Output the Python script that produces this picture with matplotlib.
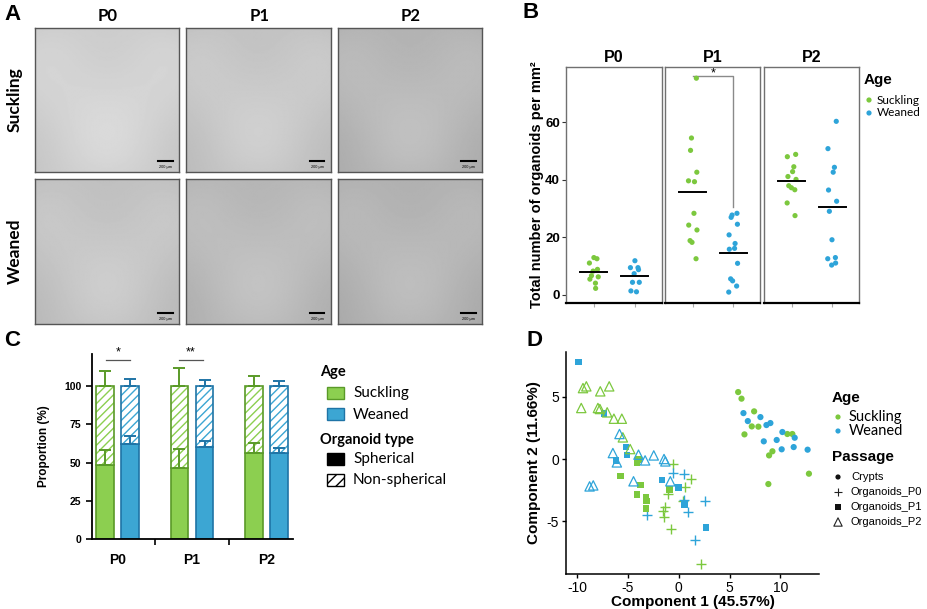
import numpy as np
import matplotlib
matplotlib.use("Agg")
import matplotlib.pyplot as plt
from matplotlib.patches import Rectangle

# ---------------- data ----------------
passages = ["P0", "P1", "P2"]
ages = ["Suckling", "Weaned"]

# Panel B: total number of organoids per mm2
b_suckling_p0 = [13.0, 12.6, 11.1, 8.9, 8.3, 6.7, 6.3, 5.5, 4.1, 2.3]
b_weaned_p0 = [11.9, 9.5, 9.5, 8.8, 7.4, 4.4, 4.4, 1.4, 1.1]
b_suckling_p1 = [75.4, 54.6, 50.3, 42.7, 39.7, 39.4, 28.4, 24.3, 22.6, 18.9, 18.3, 12.6]
b_weaned_p1 = [28.4, 27.8, 27.0, 24.6, 20.9, 17.9, 16.2, 15.9, 11.0, 5.6, 4.9, 3.1, 1.0]
b_suckling_p2 = [48.9, 48.1, 44.6, 42.9, 41.2, 40.2, 38.0, 37.3, 36.6, 32.0, 27.6]
b_weaned_p2 = [60.4, 50.9, 44.4, 42.7, 36.5, 32.6, 29.1, 19.2, 13.0, 12.6, 11.1, 10.4]
b_mean_suckling = [7.9, 35.7, 39.8]
b_mean_weaned = [6.5, 14.7, 30.5]
b_yticks = [0, 20, 40, 60]

# Panel C: proportions (%)
c_sph_suckling = [48.4, 46.6, 56.4]
c_sph_suckling_err = [9.5, 12.2, 6.5]
c_sph_weaned = [62.0, 60.1, 56.4]
c_sph_weaned_err = [5.2, 3.7, 3.3]
c_total = [100, 100, 100]
c_tot_suckling_err = [9.8, 12.1, 6.3]
c_tot_weaned_err = [4.8, 3.7, 3.3]
c_yticks = [0, 25, 50, 75, 100]

# Panel D: PCA
d_crypt_s_x = [5.85, 6.18, 7.42, 7.19, 7.84, 6.47, 10.69, 11.18, 9.22, 8.89, 12.81, 8.82]
d_crypt_s_y = [5.38, 4.85, 3.83, 2.62, 2.60, 1.98, 2.01, 2.01, 0.62, 0.29, -1.18, -2.01]
d_crypt_w_x = [6.37, 6.80, 8.04, 8.63, 9.02, 10.20, 9.64, 8.37, 11.41, 10.13, 11.31, 12.68]
d_crypt_w_y = [3.69, 3.05, 3.37, 2.73, 2.89, 2.17, 1.53, 1.42, 1.71, 0.78, 0.96, 0.75]
d_p0_s_x = [-0.52, 1.21, 0.65, -1.05, -1.37, -1.50, -1.44, -0.72, 2.19, 0.45]
d_p0_s_y = [-0.37, -1.58, -2.28, -2.81, -3.86, -4.15, -4.66, -5.60, -8.41, -3.40]
d_p0_w_x = [-0.56, 0.49, 0.56, 0.95, 2.58, 1.60, -3.14]
d_p0_w_y = [-1.15, -1.23, -3.27, -4.26, -3.37, -6.48, -4.50]
d_p1_s_x = [-4.12, -3.95, -5.72, -3.76, -4.12, -3.20, -3.14, -3.20, -0.88]
d_p1_s_y = [-0.32, -0.05, -1.37, -2.09, -2.84, -3.05, -3.37, -3.99, -2.44]
d_p1_w_x = [-9.84, -7.32, -5.20, -5.10, -6.14, -1.63, -0.03, 0.56, 2.68]
d_p1_w_y = [7.79, 3.64, 0.96, 0.32, -0.13, -1.69, -2.28, -3.64, -5.49]
d_p2_s_x = [-9.41, -9.08, -9.58, -7.71, -6.83, -7.94, -7.75, -7.03, -6.37, -5.59, -5.49, -4.77]
d_p2_s_y = [5.70, 5.84, 4.10, 5.44, 5.84, 4.10, 4.02, 3.75, 3.24, 3.24, 1.74, 0.80]
d_p2_w_x = [-5.82, -6.47, -6.08, -3.95, -3.30, -2.45, -1.44, -1.31, -4.44, -0.82, -8.76, -8.40]
d_p2_w_y = [2.01, 0.48, -0.27, 0.35, -0.11, 0.29, 0.00, -0.19, -1.79, -1.79, -2.20, -2.12]
d_xticks = [-10, -5, 0, 5, 10]
d_yticks = [-5, 0, 5]

# ---------------- style ----------------
GREEN = "#7cc83e"
BLUE = "#2ea4d9"
C_GREEN = "#8ccf50"
C_GREEN_D = "#5a9a28"
C_BLUE = "#3ca6d3"
C_BLUE_D = "#1f74a6"
ARIAL = ["Liberation Sans", "DejaVu Sans"]
CAL = ["Lato", "DejaVu Sans"]

W, H = 927, 609
fig = plt.figure(figsize=(W / 100, H / 100), dpi=100)


def axpx(x0, y0, x1, y1):
    return fig.add_axes([x0 / W, 1 - y1 / H, (x1 - x0) / W, (y1 - y0) / H])


# ---------------- Panel A (micrograph placeholders) ----------------
img_cols = [(35, 179), (186, 331), (338, 482)]
img_rows = [(28, 172), (179, 324)]
img_levels = [[0.84, 0.80, 0.74], [0.79, 0.75, 0.73]]
gy, gx = np.mgrid[-1:1:120j, -1:1:120j]
for r, (y0, y1) in enumerate(img_rows):
    for c, (x0, x1) in enumerate(img_cols):
        ax = axpx(x0, y0, x1, y1)
        base = img_levels[r][c]
        img = base - 0.05 * (gx ** 2 + gy ** 2) / 2 + 0.02 * np.cos(3 * gx) * np.sin(2.5 * gy)
        ax.imshow(img, cmap="gray", vmin=0, vmax=1, aspect="auto", interpolation="bilinear")
        ax.set_xticks([]); ax.set_yticks([])
        for s in ax.spines.values():
            s.set_color("#555555"); s.set_linewidth(1.0)
        # scale bar
        ax.plot([0.855, 0.955], [0.075, 0.075], transform=ax.transAxes, color="black", lw=1.5)
        ax.text(0.905, 0.035, "200 µm", transform=ax.transAxes, ha="center", va="center",
                fontsize=2.8, color="black", family=ARIAL)

# ---------------- Panel B ----------------
b_boxes = [(566, 67, 662, 303), (665, 67, 760, 303), (764, 67, 859, 303)]
b_s = [b_suckling_p0, b_suckling_p1, b_suckling_p2]
b_w = [b_weaned_p0, b_weaned_p1, b_weaned_p2]
b_axes = []
for i, box in enumerate(b_boxes):
    ax = axpx(*box)
    b_axes.append(ax)
    ax.set_xlim(0.32, 2.66)
    ax.set_ylim(-2.8, 79.3)
    for sname in ["left", "right", "top"]:
        ax.spines[sname].set_color("#707070"); ax.spines[sname].set_linewidth(1.0)
    ax.spines["bottom"].set_color("black"); ax.spines["bottom"].set_linewidth(1.6)
    ax.set_xticks([1, 2])
    ax.tick_params(axis="x", length=3, color="#aaaaaa", labelbottom=False)
    ax.set_yticks(b_yticks)
    if i == 0:
        ax.set_yticklabels([str(v) for v in b_yticks], fontsize=9.5, fontweight="bold", family=ARIAL)
        ax.tick_params(axis="y", length=3, color="#333333", pad=1.5)
    else:
        ax.tick_params(axis="y", left=False, labelleft=False)
    for xpos, vals, col, mean in [(1, b_s[i], GREEN, b_mean_suckling[i]),
                                  (2, b_w[i], BLUE, b_mean_weaned[i])]:
        n = len(vals)
        jit = 0.11 * np.sin(np.arange(n) * 2.39996 + i)
        ax.scatter(xpos + jit, vals, s=14, color=col, edgecolors="none", zorder=3)
        ax.plot([xpos - 0.33, xpos + 0.33], [mean, mean], color="black", lw=1.4, zorder=4)

# significance bracket in P1
axb = b_axes[1]
axb.plot([1, 2, 2], [76.3, 76.3, 30.6], color="#8a8a8a", lw=1.0, clip_on=False, zorder=2)
axb.text(1.5, 77.0, "*", ha="center", va="center", fontsize=9, family=ARIAL)

# ---------------- Panel C ----------------
axc = axpx(92, 354, 293, 539)
xg = np.arange(len(passages))
off, bw = 0.168, 0.23
axc.set_xlim(-0.342, 2.355)
axc.set_ylim(0, 121)
for xs, sph, sph_err, tot_err, fc, ec in [
        (xg - off, c_sph_suckling, c_sph_suckling_err, c_tot_suckling_err, C_GREEN, C_GREEN_D),
        (xg + off, c_sph_weaned, c_sph_weaned_err, c_tot_weaned_err, C_BLUE, C_BLUE_D)]:
    sph = np.array(sph, dtype=float)
    top = np.array(c_total, dtype=float) - sph
    axc.bar(xs, sph, width=bw, color=fc, edgecolor=ec, linewidth=1.2, zorder=2)
    axc.bar(xs, top, bottom=sph, width=bw, color="white", edgecolor=fc, linewidth=0,
            hatch="////", zorder=2)
    axc.bar(xs, top, bottom=sph, width=bw, fill=False, edgecolor=ec, linewidth=1.2, zorder=3)
    axc.errorbar(xs, sph, yerr=[np.zeros(3), sph_err], fmt="none", ecolor=ec,
                 elinewidth=1.4, capsize=4, capthick=1.4, zorder=4)
    axc.errorbar(xs, c_total, yerr=[np.zeros(3), tot_err], fmt="none", ecolor=ec,
                 elinewidth=1.4, capsize=4, capthick=1.4, zorder=4, clip_on=False)
for sp in ["top", "right"]:
    axc.spines[sp].set_visible(False)
axc.spines["left"].set_linewidth(1.3)
axc.spines["bottom"].set_linewidth(1.3)
axc.set_yticks(c_yticks)
axc.set_yticklabels([str(v) for v in c_yticks], fontsize=7.5, fontweight="bold", family=ARIAL)
axc.tick_params(axis="y", length=4, width=1.2)
axc.set_xticks(xg)
axc.set_xticklabels(passages, fontsize=10, fontweight="bold", family=ARIAL)
axc.tick_params(axis="x", which="major", length=0, pad=10)
axc.set_xticks([0.5, 1.5], minor=True)
axc.tick_params(axis="x", which="minor", length=4, width=1.2, direction="out")
axc.set_ylabel("Proportion (%)", fontsize=8.5, fontweight="bold", family=ARIAL, labelpad=10)
# significance
axc.plot([-0.154, 0.168], [117, 117], color="#555555", lw=0.9, clip_on=False)
axc.text(0.007, 118, "*", ha="center", va="bottom", fontsize=9, family=ARIAL)
axc.plot([0.825, 1.148], [117, 117], color="#555555", lw=0.9, clip_on=False)
axc.text(0.987, 118, "**", ha="center", va="bottom", fontsize=9, family=ARIAL)

# ---------------- Panel D ----------------
axd = axpx(566, 352, 819, 574)
axd.set_xlim(-11.08, 13.8)
axd.set_ylim(-9.24, 8.6)
for sp in ["top", "right"]:
    axd.spines[sp].set_visible(False)
axd.spines["left"].set_linewidth(1.1)
axd.spines["bottom"].set_linewidth(1.1)
axd.set_xticks(d_xticks)
axd.set_yticks(d_yticks)
axd.set_xticklabels([str(v) for v in d_xticks], fontsize=10, family=ARIAL)
axd.set_yticklabels([str(v) for v in d_yticks], fontsize=10, family=ARIAL)
axd.tick_params(length=3, width=1, pad=2)
axd.set_xlabel("Component 1 (45.57%)", fontsize=11, fontweight="bold", family=ARIAL, labelpad=0)
axd.set_ylabel("Component 2 (11.66%)", fontsize=11, fontweight="bold", family=ARIAL, labelpad=4)
for xs, ys, col in [(d_crypt_s_x, d_crypt_s_y, GREEN), (d_crypt_w_x, d_crypt_w_y, BLUE)]:
    axd.scatter(xs, ys, s=20, marker="o", color=col, edgecolors="none", zorder=3)
for xs, ys, col in [(d_p0_s_x, d_p0_s_y, GREEN), (d_p0_w_x, d_p0_w_y, BLUE)]:
    axd.scatter(xs, ys, s=55, marker="+", color=col, linewidths=1.0, zorder=3)
for xs, ys, col in [(d_p1_s_x, d_p1_s_y, GREEN), (d_p1_w_x, d_p1_w_y, BLUE)]:
    axd.scatter(xs, ys, s=22, marker="s", color=col, edgecolors="none", zorder=3)
for xs, ys, col in [(d_p2_s_x, d_p2_s_y, GREEN), (d_p2_w_x, d_p2_w_y, BLUE)]:
    axd.scatter(xs, ys, s=45, marker="^", facecolors="none", edgecolors=col, linewidths=0.9, zorder=3)

# ---------------- overlay: labels & legends ----------------
ov = fig.add_axes([0, 0, 1, 1], zorder=10)
ov.set_xlim(0, W); ov.set_ylim(H, 0); ov.axis("off")
ov.patch.set_alpha(0)

for lab, x, y in [("A", 4, 14), ("B", 523, 12), ("C", 4, 340), ("D", 527, 340)]:
    ov.text(x, y, lab, fontsize=16, fontweight="bold", family=ARIAL, ha="left", va="center")

# Panel A titles
for (x0, x1), t in zip(img_cols, passages):
    ov.text((x0 + x1) / 2 + 1, 16, t, fontsize=12, fontweight="bold", family=CAL, ha="center", va="center")
ov.text(15, 100, "Suckling", rotation=90, fontsize=12.5, fontweight="bold", family=CAL, ha="center", va="center")
ov.text(15, 251, "Weaned", rotation=90, fontsize=12.5, fontweight="bold", family=CAL, ha="center", va="center")

# Panel B strip titles, ylabel, legend
for (x0, y0, x1, y1), t in zip(b_boxes, passages):
    ov.text((x0 + x1) / 2, 57, t, fontsize=11.5, fontweight="bold", family=ARIAL, ha="center", va="center")
ov.text(537, 185, "Total number of organoids per mm²", rotation=90, fontsize=10.5,
        fontweight="bold", family=ARIAL, ha="center", va="center")
ov.text(864, 80, "Age", fontsize=11, fontweight="bold", family=ARIAL, ha="left", va="center")
for y, col, t in [(100, GREEN, ages[0]), (113, BLUE, ages[1])]:
    ov.scatter([869], [y], s=14, color=col, edgecolors="none")
    ov.text(877, y, t, fontsize=8.5, family=CAL, ha="left", va="center")

# Panel C legend
ov.text(320, 372, "Age", fontsize=10.5, fontweight="bold", family=CAL, ha="left", va="center")
ov.add_patch(Rectangle((327, 387), 17, 12, facecolor=C_GREEN, edgecolor=C_GREEN_D, lw=1))
ov.text(353, 393, "Suckling", fontsize=11, family=CAL, ha="left", va="center")
ov.add_patch(Rectangle((327, 408), 17, 12, facecolor=C_BLUE, edgecolor=C_BLUE_D, lw=1))
ov.text(353, 415, "Weaned", fontsize=11, family=CAL, ha="left", va="center")
ov.text(320, 440, "Organoid type", fontsize=10.5, fontweight="bold", family=CAL, ha="left", va="center")
ov.add_patch(Rectangle((327, 453), 17, 12, facecolor="black", edgecolor="black", lw=1))
ov.text(353, 459, "Spherical", fontsize=11, family=CAL, ha="left", va="center")
ov.add_patch(Rectangle((327, 474), 17, 12, facecolor="white", edgecolor="black", lw=1, hatch="///"))
ov.text(353, 480, "Non-spherical", fontsize=11, family=CAL, ha="left", va="center")

# Panel D legend
ov.text(832, 398, "Age", fontsize=11, fontweight="bold", family=ARIAL, ha="left", va="center")
for y, col, t in [(417, GREEN, ages[0]), (431, BLUE, ages[1])]:
    ov.scatter([838], [y], s=14, color=col, edgecolors="none")
    ov.text(849, y, t, fontsize=10.5, family=CAL, ha="left", va="center")
ov.text(832, 457, "Passage", fontsize=11, fontweight="bold", family=ARIAL, ha="left", va="center")
leg_d = [("o", "Crypts", 477, 14), ("+", "Organoids_P0", 492, 40),
         ("s", "Organoids_P1", 507, 16), ("^", "Organoids_P2", 522, 36)]
for m, t, y, s in leg_d:
    if m == "^":
        ov.scatter([838], [y], s=s, marker=m, facecolors="none", edgecolors="#222222", linewidths=0.8)
    elif m == "+":
        ov.scatter([838], [y], s=s, marker=m, color="#222222", linewidths=0.8)
    else:
        ov.scatter([838], [y], s=s, marker=m, color="#111111", edgecolors="none")
    ov.text(851, y, t, fontsize=8, family=ARIAL, ha="left", va="center")

fig.savefig("out.png", dpi=100)
